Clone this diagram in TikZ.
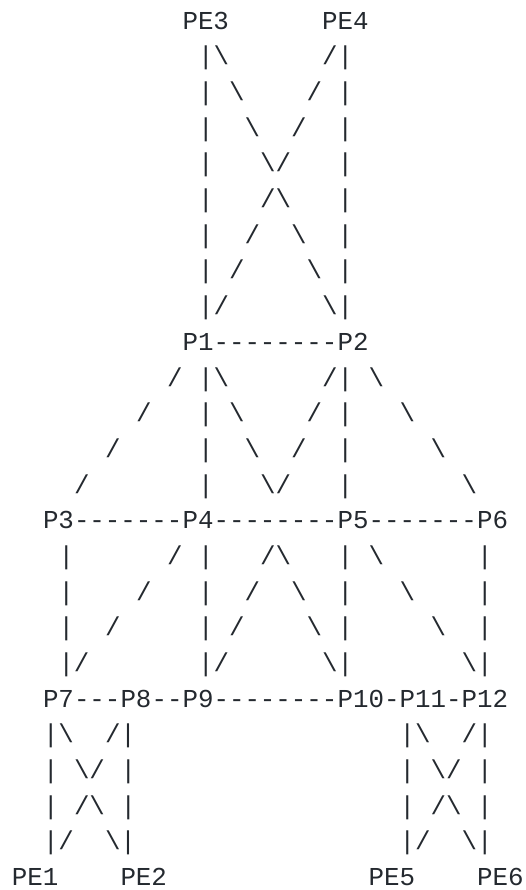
\documentclass[tikz,border=0pt]{standalone}
\usepackage{fontspec}
\newfontfamily\asciifont{Liberation Mono}
\definecolor{ink}{HTML}{24292F}
\newcommand\bsl{\textbackslash}
\tikzset{
  txt/.style={anchor=base west, inner sep=0pt, outer sep=0pt, text=ink,
    font=\asciifont\fontsize{25.83pt}{30pt}\selectfont},
}
% glyph run at column #1, row #2
\newcommand\gl[3]{\node[txt] (g#2x#1) at (#1,-#2) {#3};}
\begin{document}
\begin{tikzpicture}[x=15.5pt, y=35.67pt]
\path[use as bounding box] (-12pt,29.3pt) rectangle (514pt,-860.7pt);
% row 0
\node[txt] (PE3) at (11,0) {PE3};
\node[txt] (PE4) at (20,0) {PE4};
% rows 1-8
\gl{12}{1}{|\bsl} \gl{20}{1}{/|}
\gl{12}{2}{|} \gl{14}{2}{\bsl} \gl{19}{2}{/} \gl{21}{2}{|}
\gl{12}{3}{|} \gl{15}{3}{\bsl} \gl{18}{3}{/} \gl{21}{3}{|}
\gl{12}{4}{|} \gl{16}{4}{\bsl/} \gl{21}{4}{|}
\gl{12}{5}{|} \gl{16}{5}{/\bsl} \gl{21}{5}{|}
\gl{12}{6}{|} \gl{15}{6}{/} \gl{18}{6}{\bsl} \gl{21}{6}{|}
\gl{12}{7}{|} \gl{14}{7}{/} \gl{19}{7}{\bsl} \gl{21}{7}{|}
\gl{12}{8}{|/} \gl{20}{8}{\bsl|}
% row 9
\node[txt] (P1) at (11,-9) {P1};
\gl{13}{9}{--------}
\node[txt] (P2) at (21,-9) {P2};
% rows 10-13
\gl{10}{10}{/} \gl{12}{10}{|\bsl} \gl{20}{10}{/|} \gl{23}{10}{\bsl}
\gl{8}{11}{/} \gl{12}{11}{|} \gl{14}{11}{\bsl} \gl{19}{11}{/} \gl{21}{11}{|} \gl{25}{11}{\bsl}
\gl{6}{12}{/} \gl{12}{12}{|} \gl{15}{12}{\bsl} \gl{18}{12}{/} \gl{21}{12}{|} \gl{27}{12}{\bsl}
\gl{4}{13}{/} \gl{12}{13}{|} \gl{16}{13}{\bsl/} \gl{21}{13}{|} \gl{29}{13}{\bsl}
% row 14
\node[txt] (P3) at (2,-14) {P3};
\gl{4}{14}{-------}
\node[txt] (P4) at (11,-14) {P4};
\gl{13}{14}{--------}
\node[txt] (P5) at (21,-14) {P5};
\gl{23}{14}{-------}
\node[txt] (P6) at (30,-14) {P6};
% rows 15-18
\gl{3}{15}{|} \gl{10}{15}{/} \gl{12}{15}{|} \gl{16}{15}{/\bsl} \gl{21}{15}{|} \gl{23}{15}{\bsl} \gl{30}{15}{|}
\gl{3}{16}{|} \gl{8}{16}{/} \gl{12}{16}{|} \gl{15}{16}{/} \gl{18}{16}{\bsl} \gl{21}{16}{|} \gl{25}{16}{\bsl} \gl{30}{16}{|}
\gl{3}{17}{|} \gl{6}{17}{/} \gl{12}{17}{|} \gl{14}{17}{/} \gl{19}{17}{\bsl} \gl{21}{17}{|} \gl{27}{17}{\bsl} \gl{30}{17}{|}
\gl{3}{18}{|/} \gl{12}{18}{|/} \gl{20}{18}{\bsl|} \gl{29}{18}{\bsl|}
% row 19
\node[txt] (P7) at (2,-19) {P7};
\gl{4}{19}{---}
\node[txt] (P8) at (7,-19) {P8};
\gl{9}{19}{--}
\node[txt] (P9) at (11,-19) {P9};
\gl{13}{19}{--------}
\node[txt] (P10) at (21,-19) {P10};
\gl{24}{19}{-}
\node[txt] (P11) at (25,-19) {P11};
\gl{28}{19}{-}
\node[txt] (P12) at (29,-19) {P12};
% rows 20-23
\gl{2}{20}{|\bsl} \gl{6}{20}{/|} \gl{25}{20}{|\bsl} \gl{29}{20}{/|}
\gl{2}{21}{|} \gl{4}{21}{\bsl/} \gl{7}{21}{|} \gl{25}{21}{|} \gl{27}{21}{\bsl/} \gl{30}{21}{|}
\gl{2}{22}{|} \gl{4}{22}{/\bsl} \gl{7}{22}{|} \gl{25}{22}{|} \gl{27}{22}{/\bsl} \gl{30}{22}{|}
\gl{2}{23}{|/} \gl{6}{23}{\bsl|} \gl{25}{23}{|/} \gl{29}{23}{\bsl|}
% row 24
\node[txt] (PE1) at (0,-24) {PE1};
\node[txt] (PE2) at (7,-24) {PE2};
\node[txt] (PE5) at (23,-24) {PE5};
\node[txt] (PE6) at (30,-24) {PE6};
\end{tikzpicture}
\end{document}
